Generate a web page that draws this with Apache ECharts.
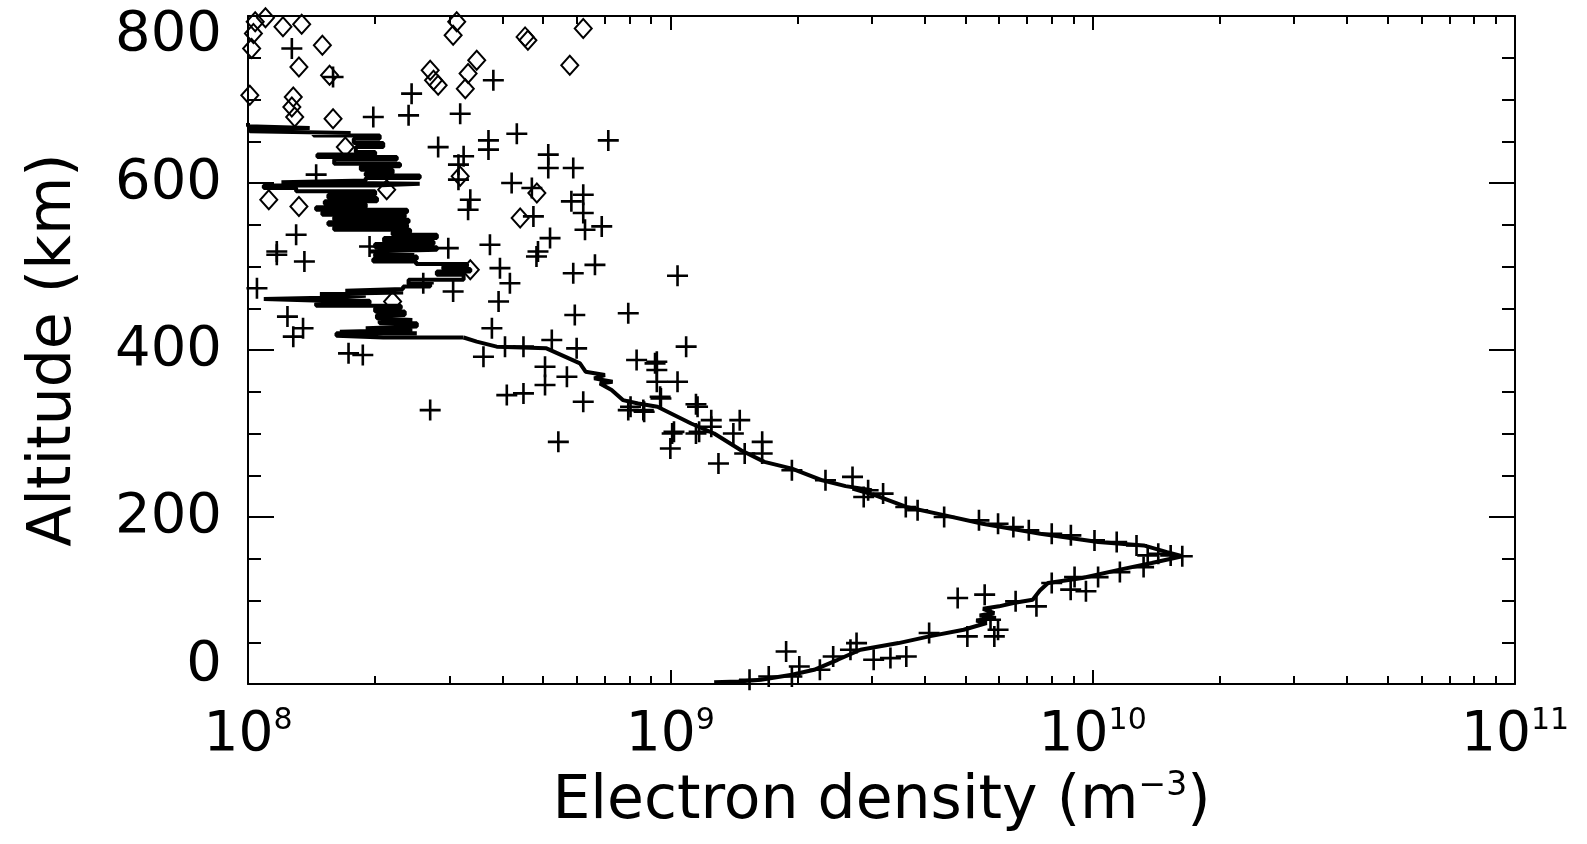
<!DOCTYPE html>
<html><head><meta charset="utf-8">
<script src="https://cdn.jsdelivr.net/npm/echarts@6/dist/echarts.min.js"></script>
<style>html,body{margin:0;padding:0;background:#fff}#c{width:1587px;height:844px}</style>
</head><body><div id="c"></div>
<script>
// ---- tick values ----
const xMajorTicks = [1e8, 1e9, 1e10, 1e11];
const xMinorTicks = [2e8,3e8,4e8,5e8,6e8,7e8,8e8,9e8,2e9,3e9,4e9,5e9,6e9,7e9,8e9,9e9,2e10,3e10,4e10,5e10,6e10,7e10,8e10,9e10];

// ---- profile line, lower smooth part: [electron density m^-3, altitude km] ----
const profileLower = [
 [1.27e9,2],[1.45e9,3],[1.64e9,5],[1.94e9,11],[2.19e9,17],[2.49e9,29],[2.82e9,41],[3.47e9,49],[4.10e9,57],[4.95e9,65],
 [5.61e9,73],[5.30e9,76],[5.90e9,79],[5.40e9,82],[5.85e9,85],[5.50e9,90],[6.00e9,93],[6.49e9,97],[7.21e9,101],[7.50e9,112],
 [7.84e9,121],[9.45e9,127],
 [1.16e10,137],[1.38e10,145],[1.63e10,153],[1.50e10,158],[1.32e10,166],[1.03e10,170],[7.52e9,180],[5.49e9,192],
 [4.28e9,204],[3.62e9,212],[3.06e9,226],[2.70e9,234],[3.00e9,232],[2.60e9,237],[2.29e9,244],[1.94e9,258],[1.67e9,266],
 [1.47e9,280],[1.27e9,300],[1.12e9,312],[9.32e8,332],[8.39e8,336],[7.72e8,340],[7.26e8,352],[6.81e8,360],[7.30e8,362],
 [6.60e8,366],[7.00e8,370],[6.30e8,374],[6.11e8,384],[5.09e8,402],[3.88e8,404],[3.48e8,410],[3.24e8,415]
];
// ---- profile line, upper noisy part (drawn as steps) ----
const profileUpper = [
 [3.24e8,415],[2.09e8,417],[1.62e8,420],[2.51e8,422],[1.65e8,424],[2.45e8,426],[1.90e8,428],[2.51e8,432],[2.05e8,436],[2.45e8,438],
 [2.02e8,442],[2.35e8,446],[2.00e8,450],[2.30e8,453],[1.45e8,456],[1.94e8,459],[1.50e8,461],[1.09e8,463],[1.60e8,465],
 [1.90e8,467],[1.48e8,469],[2.33e8,471],[1.70e8,473],[2.33e8,476],[2.70e8,479],[2.40e8,484],[3.24e8,490],[2.80e8,494],
 [3.36e8,497],[2.90e8,500],[3.30e8,503],[2.50e8,506],[1.98e8,509],[2.51e8,512],[2.00e8,515],[2.45e8,518],[1.94e8,520],
 [2.80e8,523],[2.00e8,527],[2.75e8,530],[2.10e8,534],[2.80e8,538],[2.20e8,541],[2.42e8,544],[1.60e8,547],[2.38e8,550],
 [1.55e8,553],[2.40e8,556],[1.60e8,559],[2.35e8,562],[1.50e8,565],[2.38e8,568],[1.45e8,571],[1.90e8,575],[1.52e8,578],
 [2.02e8,582],[1.55e8,586],[2.00e8,590],[1.30e8,594],[1.09e8,597],[2.00e8,599],[2.55e8,601],[1.20e8,603],[1.90e8,606],
 [2.55e8,609],[1.90e8,612],[2.20e8,616],[1.85e8,620],[2.29e8,623],[1.60e8,628],[2.25e8,631],[1.46e8,634],[2.00e8,637],
 [1.80e8,643],[2.09e8,648],[1.78e8,653],[2.05e8,657],[1.43e8,660],[1.75e8,662],[1.01e8,666],[1.40e8,668],[1.00e8,672]
];

// ---- '+' measurements ----
const plusPoints = [
 [1.27e8,761],[1.59e8,727],[2.44e8,707],[1.98e8,679],[2.40e8,681],[3.18e8,683],[3.81e8,723],[4.33e8,659],[7.13e8,651],
 [2.82e8,643],[3.71e8,651],[3.71e8,640],[3.24e8,632],[3.15e8,622],[5.14e8,634],[5.14e8,618],[5.89e8,618],[4.21e8,600],
 [4.70e8,594],[3.15e8,604],[3.36e8,580],[3.32e8,568],[5.83e8,578],[6.22e8,586],[4.74e8,560],[6.22e8,564],[6.28e8,544],
 [6.88e8,548],[5.19e8,534],[3.74e8,526],[2.98e8,522],[1.94e8,524],[1.30e8,538],[1.17e8,518],[1.45e8,610],[4.86e8,518],
 [1.17e8,514],[1.36e8,506],[4.82e8,512],[3.95e8,498],[5.89e8,492],[6.63e8,502],[1.04e9,489],[1.05e8,474],[2.60e8,480],
 [3.06e8,470],[4.17e8,480],[3.92e8,458],[5.94e8,442],[7.95e8,444],[1.24e8,440],[1.35e8,426],[1.28e8,416],[3.78e8,426],
 [1.09e9,404],[1.73e8,396],[1.87e8,394],[3.61e8,392],[4.06e8,404],[4.49e8,404],[5.24e8,412],[6.00e8,402],[5.05e8,380],
 [5.05e8,358],[5.69e8,368],[4.10e8,346],[4.49e8,348],[2.70e8,328],[6.22e8,338],[8.32e8,388],[9.29e8,386],[9.29e8,376],
 [9.29e8,362],[1.04e9,362],[7.95e8,328],[8.63e8,328],[9.46e8,344],[5.43e8,290],[1.02e9,302],[1.15e9,335],[1.17e9,302],
 [9.20e8,384],[9.50e8,342],[8.05e8,332],[8.67e8,326],[1.01e9,300],[1.00e9,282],[1.16e9,332],[1.15e9,300],[1.30e9,264],
 [1.25e9,316],[1.25e9,308],[1.46e9,316],[1.41e9,300],[1.50e9,276],[1.65e9,290],[1.65e9,276],[1.94e9,256],[2.33e9,244],
 [2.70e9,248],[2.87e9,224],[2.94e9,232],[3.19e9,228],[3.61e9,212],[3.85e9,208],[4.45e9,200],[5.38e9,196],[5.97e9,192],
 [6.49e9,188],[7.06e9,184],[8.00e9,180],[8.88e9,178],[1.01e10,172],[1.14e10,170],[1.27e10,166],[1.35e10,154],[1.43e10,156],
 [1.53e10,154],[1.63e10,153],[1.32e10,140],[1.16e10,134],[1.03e10,128],[9.06e9,128],[8.87e9,113],[9.64e9,111],[8.00e9,121],
 [7.36e9,93],[6.57e9,99],[4.79e9,103],[5.55e9,107],[5.73e9,77],[5.97e9,65],[5.85e9,57],[5.05e9,57],[4.10e9,61],[3.62e9,33],
 [3.32e9,31],[3.03e9,29],[2.76e9,49],[2.67e9,41],[2.43e9,33],[1.88e9,39],[2.02e9,21],[2.26e9,17],[1.71e9,9],[1.54e9,5],[1.94e9,9]
];

// ---- diamond measurements ----
const diamondPoints = [
 [1.04e8,793],[1.03e8,779],[1.02e8,761],[1.10e8,798],[1.21e8,787],[1.34e8,790],[1.50e8,765],[1.32e8,739],[1.56e8,729],
 [1.28e8,703],[1.27e8,691],[1.29e8,679],[1.59e8,677],[1.01e8,705],[3.12e8,793],[3.06e8,777],[4.53e8,775],[4.60e8,771],
 [6.22e8,785],[5.78e8,741],[3.48e8,747],[2.70e8,735],[2.75e8,723],[2.82e8,717],[3.32e8,731],[3.27e8,713],[2.13e8,592],
 [1.12e8,580],[1.32e8,572],[4.83e8,588],[4.41e8,558],[3.18e8,608],[1.70e8,643],[3.36e8,496],[2.20e8,458]
];

const FONT = 'DejaVu Sans';
const BLACK = '#000';
const supFmt = v => '{b|10}{s|' + Math.round(Math.log10(v)) + '}';

function xAxisCfg(pos, minor, withLabels) {
  return {
    type: 'log', logBase: 10, min: 1e8, max: 1e11, position: pos,
    axisLine: { show: !minor, onZero: false, lineStyle: { color: BLACK, width: 2 } },
    axisTick: { show: true, inside: true, length: minor ? 8 : 14, lineStyle: { color: BLACK, width: 2 },
                customValues: minor ? xMinorTicks : xMajorTicks },
    axisLabel: withLabels ? {
      show: true, margin: 22, customValues: xMajorTicks, formatter: supFmt,
      rich: {
        b: { fontFamily: FONT, fontSize: 55, color: BLACK, lineHeight: 60 },
        s: { fontFamily: FONT, fontSize: 30, color: BLACK, verticalAlign: 'top', lineHeight: 30 }
      }
    } : { show: false },
    splitLine: { show: false }, minorSplitLine: { show: false }
  };
}
function yAxisCfg(pos, withLabels) {
  return {
    type: 'value', min: 0, max: 800, interval: 200, position: pos,
    axisLine: { show: true, onZero: false, lineStyle: { color: BLACK, width: 2 } },
    axisTick: { show: true, inside: true, length: 26, lineStyle: { color: BLACK, width: 2 } },
    minorTick: { show: true, splitNumber: 4, length: 13, lineStyle: { color: BLACK, width: 2 } },
    axisLabel: withLabels ? { show: true, margin: 26, fontFamily: FONT, fontSize: 56, color: BLACK, lineHeight: 38,
      verticalAlignMinLabel: 'bottom', verticalAlignMaxLabel: 'top' } : { show: false },
    splitLine: { show: false }, minorSplitLine: { show: false }
  };
}

const xa0 = xAxisCfg('bottom', false, true);
xa0.name = '{t|Electron density (m}{s|−3}{t|)}';
xa0.nameLocation = 'middle';
xa0.nameGap = 86;
xa0.nameTextStyle = { rich: {
  t: { fontFamily: FONT, fontSize: 60, color: BLACK, lineHeight: 64 },
  s: { fontFamily: FONT, fontSize: 33, color: BLACK, verticalAlign: 'top', lineHeight: 32 }
}};
const ya0 = yAxisCfg('left', true);
ya0.name = 'Altitude (km)';
ya0.nameLocation = 'middle';
ya0.nameGap = 164;
ya0.nameTextStyle = { fontFamily: FONT, fontSize: 60, color: BLACK };

const chart = echarts.init(document.getElementById('c'), null, { renderer: 'canvas' });
chart.setOption({
  animation: false,
  backgroundColor: '#fff',
  grid: { left: 248, right: 72, top: 16, bottom: 160, containLabel: false },
  xAxis: [xa0, xAxisCfg('bottom', true, false), xAxisCfg('top', false, false), xAxisCfg('top', true, false)],
  yAxis: [ya0, yAxisCfg('right', false)],
  series: [
    { type: 'line', xAxisIndex: 0, yAxisIndex: 0, data: profileLower, showSymbol: false, symbol: 'none',
      lineStyle: { color: BLACK, width: 4 }, clip: true, z: 3 },
    { type: 'line', xAxisIndex: 0, yAxisIndex: 0, data: profileUpper, showSymbol: false, symbol: 'none', step: 'end',
      lineStyle: { color: BLACK, width: 4 }, clip: true, z: 3 },
    { type: 'scatter', xAxisIndex: 0, yAxisIndex: 0, data: plusPoints,
      symbol: 'path://M0,10L20,10M10,0L10,20', symbolSize: 21,
      itemStyle: { color: 'transparent', borderColor: BLACK, borderWidth: 2.6, opacity: 1 }, clip: true, z: 4 },
    { type: 'scatter', xAxisIndex: 0, yAxisIndex: 0, data: diamondPoints,
      symbol: 'diamond', symbolSize: [17, 19],
      itemStyle: { color: 'transparent', borderColor: BLACK, borderWidth: 2, opacity: 1 }, clip: true, z: 4 }
  ]
});
</script></body></html>
